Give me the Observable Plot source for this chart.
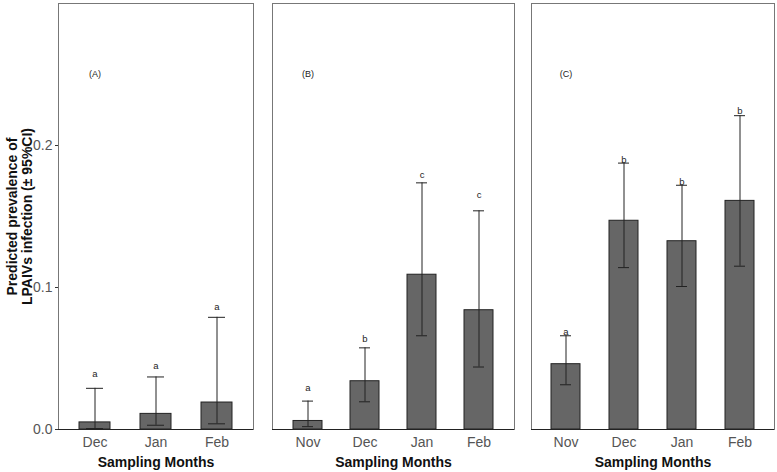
<!DOCTYPE html>
<html>
<head>
<meta charset="utf-8">
<script src="https://cdn.jsdelivr.net/npm/d3@7"></script>
<script src="https://cdn.jsdelivr.net/npm/@observablehq/plot@0.6"></script>
<style>
  body { margin: 0; background: white; }
  #charts { display: flex; width: 777px; height: 472px; }
</style>
</head>
<body>
<div id="charts"></div>
<script>
// panel A: Dec-Feb
const monthsA = ['Dec', 'Jan', 'Feb']
const prevA = [0.005, 0.011, 0.019]
const lowA = [0.0007, 0.003, 0.004]
const highA = [0.029, 0.037, 0.079]
const lettersA = ['a', 'a', 'a']
const letterYA = [0.0394, 0.045, 0.0866]

// panels B and C: Nov-Feb
const monthsBC = ['Nov', 'Dec', 'Jan', 'Feb']
const prevB = [0.006, 0.034, 0.109, 0.084]
const lowB = [0.002, 0.0195, 0.066, 0.044]
const highB = [0.020, 0.0575, 0.1737, 0.154]
const lettersB = ['a', 'b', 'c', 'c']
const letterYB = [0.029, 0.064, 0.1796, 0.165]

const prevC = [0.046, 0.147, 0.1326, 0.161]
const lowC = [0.0315, 0.114, 0.1007, 0.115]
const highC = [0.066, 0.1876, 0.172, 0.221]
const lettersC = ['a', 'b', 'b', 'b']
const letterYC = [0.069, 0.19, 0.174, 0.2246]

const yTicks = [0, 0.1, 0.2]
const tagY = 0.25
const yTitle = 'Predicted prevalence of\nLPAIVs infection (± 95%CI)'

function panel(p) {
  const data = p.months.map((m, i) => ({
    month: m, prev: p.prev[i], low: p.low[i], high: p.high[i],
    letter: p.letters[i], ly: p.letterY[i]
  }))
  const marks = [
    Plot.barY(data, { x: 'month', y: 'prev', fill: '#666', stroke: '#222', strokeWidth: 1 }),
    Plot.ruleX(data, { x: 'month', y1: 'low', y2: 'high', stroke: '#222' }),
    Plot.tickY(data, { x: 'month', y: 'high', stroke: '#222', insetLeft: p.cap, insetRight: p.cap }),
    Plot.tickY(data, { x: 'month', y: 'low', stroke: '#222', insetLeft: p.cap, insetRight: p.cap }),
    Plot.text(data, { x: 'month', y: 'ly', text: 'letter', fontSize: 9.5, fill: '#222' }),
    Plot.text([{ m: p.months[0], v: tagY, t: p.tag }], { x: 'm', y: 'v', text: 't', fontSize: 9, fill: '#222' }),
    Plot.frame({ stroke: '#777' }),
    Plot.ruleY([0], { stroke: '#222' }),
    Plot.axisX({ tickSize: 0, tickPadding: 8, fontSize: 14, fill: '#555', label: null }),
    Plot.text(['Sampling Months'], { frameAnchor: 'bottom', dy: 37, fontSize: 14, fontWeight: 'bold', fill: '#111' })
  ]
  if (p.yAxis) {
    marks.push(
      Plot.axisY({ ticks: yTicks, tickFormat: '.1f', tickSize: 3, tickPadding: 3, fontSize: 14, fill: '#555', stroke: '#333', label: null }),
      Plot.text([yTitle], { frameAnchor: 'left', textAnchor: 'middle', rotate: -90, dx: -39, fontSize: 14, fontWeight: 'bold', lineHeight: 1.05, fill: '#111' })
    )
  }
  return Plot.plot({
    width: p.width,
    height: 472,
    marginTop: 3,
    marginBottom: 43,
    marginLeft: p.marginLeft,
    marginRight: p.marginRight,
    style: { fontFamily: 'Liberation Sans, Arial, sans-serif', background: 'white', overflow: 'visible' },
    x: { domain: p.months, paddingInner: 0.5, paddingOuter: 0.34, axis: null },
    y: { domain: [0, 0.3], axis: null },
    marks
  })
}

const holder = d3.select('#charts')
holder.append(() => panel({ months: monthsA, prev: prevA, low: lowA, high: highA, letters: lettersA, letterY: letterYA,
  tag: '(A)', width: 262, marginLeft: 58, marginRight: 9, yAxis: true, cap: 7 }))
holder.append(() => panel({ months: monthsBC, prev: prevB, low: lowB, high: highB, letters: lettersB, letterY: letterYB,
  tag: '(B)', width: 260, marginLeft: 10, marginRight: 8, yAxis: false, cap: 9 }))
holder.append(() => panel({ months: monthsBC, prev: prevC, low: lowC, high: highC, letters: lettersC, letterY: letterYC,
  tag: '(C)', width: 255, marginLeft: 9, marginRight: 3, yAxis: false, cap: 9 }))
</script>
</body>
</html>
